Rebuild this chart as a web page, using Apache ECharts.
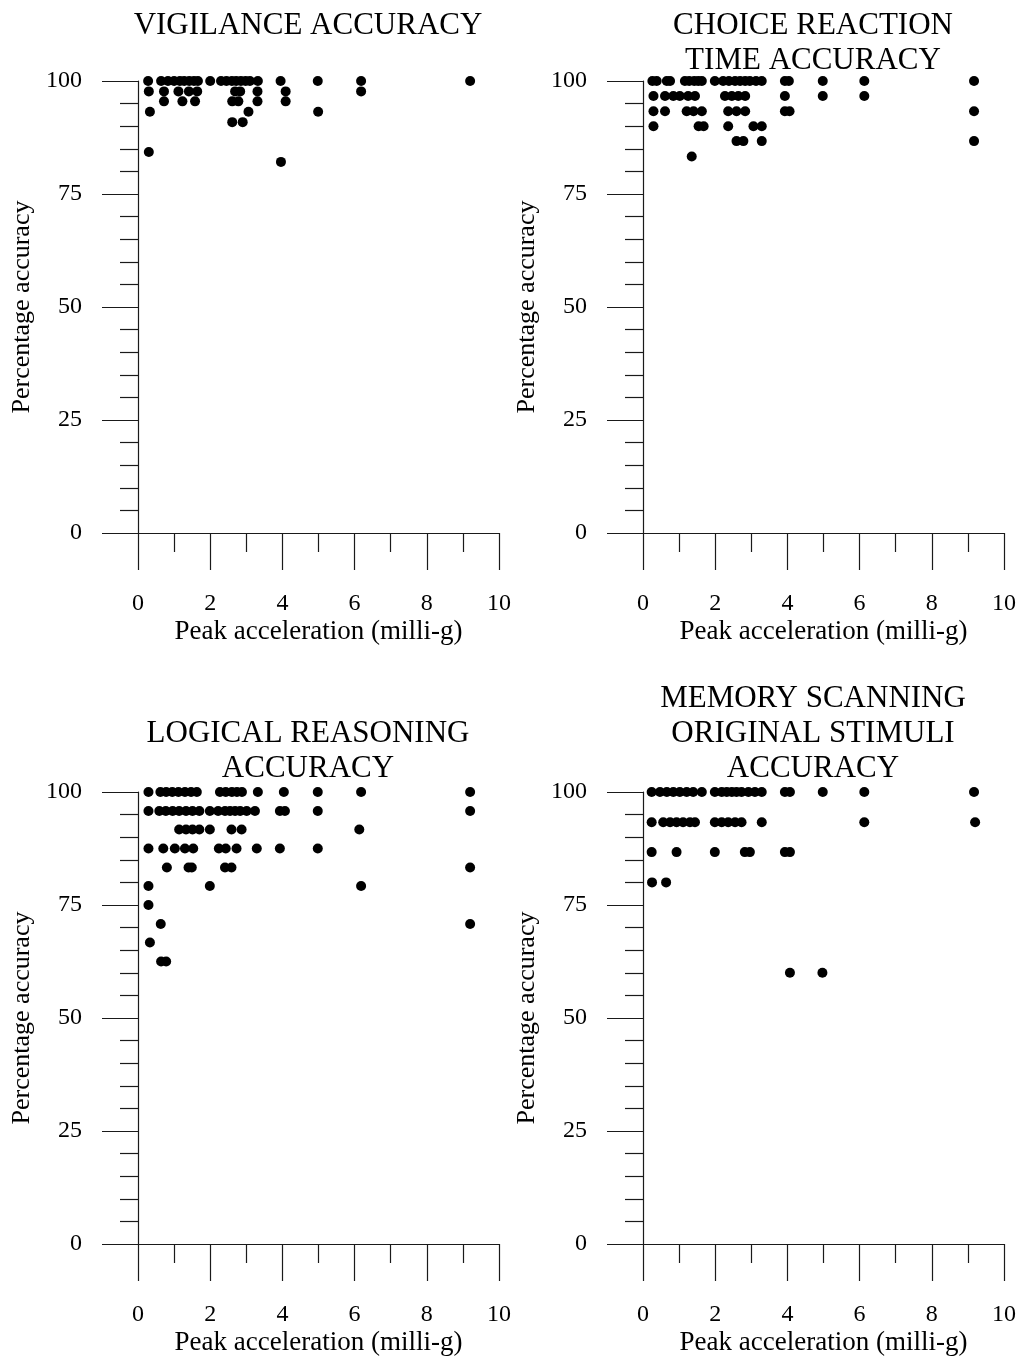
<!DOCTYPE html>
<html>
<head>
<meta charset="utf-8">
<script src="https://cdn.jsdelivr.net/npm/echarts@6/dist/echarts.min.js"></script>
<style>
  html, body { margin: 0; padding: 0; background: #fff; }
  #chart { width: 1021px; height: 1359px; }
</style>
</head>
<body>
<div id="chart"></div>
<script>
// Panel titles
const panelTitles = [
  'VIGILANCE ACCURACY',
  'CHOICE REACTION\nTIME ACCURACY',
  'LOGICAL REASONING\nACCURACY',
  'MEMORY SCANNING\nORIGINAL STIMULI\nACCURACY'
];

// Axis tick labels
const xTickLabels = [0, 2, 4, 6, 8, 10];
const yTickLabels = [0, 25, 50, 75, 100];

// [peak acceleration (milli-g), percentage accuracy]
const vigilanceAccuracy = [
  [0.28, 100], [0.64, 100], [0.83, 100], [1.0, 100], [1.16, 100], [1.28, 100], [1.42, 100],
  [1.55, 100], [1.66, 100], [2.0, 100], [2.3, 100], [2.45, 100], [2.6, 100], [2.72, 100],
  [2.85, 100], [2.98, 100], [3.1, 100], [3.32, 100], [3.95, 100], [4.98, 100], [6.18, 100], [9.2, 100],
  [0.30, 97.7], [0.72, 97.7], [1.12, 97.7], [1.41, 97.7], [1.64, 97.7], [2.69, 97.7], [2.83, 97.7],
  [3.31, 97.7], [4.09, 97.7], [6.18, 97.7],
  [0.72, 95.5], [1.23, 95.5], [1.58, 95.5], [2.61, 95.5], [2.78, 95.5], [3.31, 95.5], [4.09, 95.5],
  [0.33, 93.2], [3.06, 93.2], [4.99, 93.2],
  [2.61, 90.9], [2.90, 90.9],
  [0.30, 84.3],
  [3.96, 82.1]
];

const choiceReactionAccuracy = [
  [0.26, 100], [0.38, 100], [0.66, 100], [0.75, 100], [1.16, 100], [1.28, 100], [1.42, 100],
  [1.53, 100], [1.63, 100], [1.99, 100], [2.22, 100], [2.38, 100], [2.55, 100], [2.69, 100],
  [2.83, 100], [2.96, 100], [3.13, 100], [3.29, 100], [3.93, 100], [4.04, 100], [4.98, 100],
  [6.13, 100], [9.17, 100],
  [0.29, 96.7], [0.61, 96.7], [0.84, 96.7], [1.02, 96.7], [1.25, 96.7], [1.44, 96.7], [2.27, 96.7],
  [2.46, 96.7], [2.64, 96.7], [2.83, 96.7], [3.93, 96.7], [4.98, 96.7], [6.13, 96.7],
  [0.29, 93.3], [0.61, 93.3], [1.21, 93.3], [1.40, 93.3], [1.63, 93.3], [2.36, 93.3], [2.59, 93.3],
  [2.83, 93.3], [3.93, 93.3], [4.06, 93.3], [9.17, 93.3],
  [0.29, 90.0], [1.54, 90.0], [1.68, 90.0], [2.36, 90.0], [3.06, 90.0], [3.29, 90.0],
  [2.59, 86.7], [2.78, 86.7], [3.29, 86.7], [9.17, 86.7],
  [1.35, 83.3]
];

const logicalReasoningAccuracy = [
  [0.29, 100], [0.62, 100], [0.78, 100], [0.95, 100], [1.12, 100], [1.30, 100], [1.47, 100],
  [1.63, 100], [2.27, 100], [2.43, 100], [2.6, 100], [2.74, 100], [2.88, 100], [3.32, 100],
  [4.04, 100], [4.98, 100], [6.18, 100], [9.2, 100],
  [0.29, 95.8], [0.59, 95.8], [0.77, 95.8], [0.96, 95.8], [1.14, 95.8], [1.33, 95.8], [1.51, 95.8],
  [1.70, 95.8], [1.99, 95.8], [2.22, 95.8], [2.41, 95.8], [2.55, 95.8], [2.69, 95.8], [2.83, 95.8],
  [3.01, 95.8], [3.24, 95.8], [3.93, 95.8], [4.07, 95.8], [4.98, 95.8], [9.2, 95.8],
  [1.14, 91.7], [1.33, 91.7], [1.51, 91.7], [1.70, 91.7], [1.99, 91.7], [2.59, 91.7], [2.87, 91.7],
  [6.13, 91.7],
  [0.29, 87.5], [0.70, 87.5], [1.02, 87.5], [1.30, 87.5], [1.53, 87.5], [2.24, 87.5], [2.43, 87.5],
  [2.73, 87.5], [3.29, 87.5], [3.93, 87.5], [4.98, 87.5],
  [0.80, 83.3], [1.40, 83.3], [1.49, 83.3], [2.41, 83.3], [2.59, 83.3], [9.2, 83.3],
  [0.29, 79.2], [1.99, 79.2], [6.18, 79.2],
  [0.29, 75.0],
  [0.63, 70.8], [9.2, 70.8],
  [0.33, 66.7],
  [0.64, 62.5], [0.78, 62.5]
];

const memoryScanningAccuracy = [
  [0.24, 100], [0.47, 100], [0.66, 100], [0.84, 100], [1.02, 100], [1.21, 100], [1.39, 100],
  [1.63, 100], [1.99, 100], [2.18, 100], [2.32, 100], [2.46, 100], [2.59, 100], [2.73, 100],
  [2.92, 100], [3.10, 100], [3.29, 100], [3.93, 100], [4.07, 100], [4.98, 100], [6.13, 100],
  [9.17, 100],
  [0.24, 93.3], [0.56, 93.3], [0.75, 93.3], [0.93, 93.3], [1.11, 93.3], [1.30, 93.3], [1.44, 93.3],
  [1.99, 93.3], [2.18, 93.3], [2.36, 93.3], [2.55, 93.3], [2.73, 93.3], [3.29, 93.3], [6.13, 93.3],
  [9.2, 93.3],
  [0.24, 86.7], [0.93, 86.7], [1.99, 86.7], [2.82, 86.7], [2.96, 86.7], [3.93, 86.7], [4.07, 86.7],
  [0.25, 80.0], [0.64, 80.0],
  [4.07, 60.0], [4.97, 60.0]
];

const panelData = [vigilanceAccuracy, choiceReactionAccuracy, logicalReasoningAccuracy, memoryScanningAccuracy];

// Layout of the four plot areas (2 x 2)
const FONT = '"Liberation Serif", "Times New Roman", serif';
const plotLeft = [138, 643, 138, 643];
const plotTop = [81, 81, 792, 792];
const plotW = 361, plotH = 452;
const titleTop = [8, 8, 716, 681];

const ink = '#000';
const lineCol = '#1a1a1a';

const grids = [], xAxes = [], yAxes = [], series = [], titles = [];
for (let i = 0; i < 4; i++) {
  grids.push({ left: plotLeft[i], top: plotTop[i], width: plotW, height: plotH, containLabel: false });
  titles.push({
    text: panelTitles[i],
    left: plotLeft[i] + 170,
    top: titleTop[i],
    textAlign: 'center',
    padding: 0,
    textStyle: { fontFamily: FONT, fontSize: 31, fontWeight: 'normal', color: ink, lineHeight: 35 }
  });
  xAxes.push({
    gridIndex: i, type: 'value', min: 0, max: 10, interval: 2,
    name: 'Peak acceleration (milli-g)', nameLocation: 'middle', nameGap: 85,
    nameTextStyle: { fontFamily: FONT, fontSize: 27, color: ink },
    axisLine: { show: true, onZero: false, lineStyle: { color: lineCol, width: 1.2 } },
    axisTick: { show: true, length: 37, lineStyle: { color: lineCol, width: 1.2 } },
    minorTick: { show: true, splitNumber: 2, length: 19, lineStyle: { color: lineCol, width: 1.2 } },
    axisLabel: {
      margin: 59, fontFamily: FONT, fontSize: 24, color: ink,
      formatter: v => (xTickLabels.indexOf(v) >= 0 ? String(v) : '')
    },
    splitLine: { show: false }
  });
  yAxes.push({
    gridIndex: i, type: 'value', min: 0, max: 100, interval: 25,
    name: 'Percentage accuracy', nameLocation: 'middle', nameGap: 103, nameRotate: 90,
    nameTextStyle: { fontFamily: FONT, fontSize: 26, color: ink },
    axisLine: { show: true, onZero: false, lineStyle: { color: lineCol, width: 1.2 } },
    axisTick: { show: true, length: 36, lineStyle: { color: lineCol, width: 1.2 } },
    minorTick: { show: true, splitNumber: 5, length: 18, lineStyle: { color: lineCol, width: 1.2 } },
    axisLabel: {
      margin: 56, fontFamily: FONT, fontSize: 24, color: ink,
      formatter: v => (yTickLabels.indexOf(v) >= 0 ? String(v) : '')
    },
    splitLine: { show: false }
  });
  series.push({
    type: 'scatter', xAxisIndex: i, yAxisIndex: i,
    data: panelData[i], symbol: 'circle', symbolSize: 10,
    itemStyle: { color: '#000', opacity: 1 },
    emphasis: { disabled: true }, silent: true, clip: false
  });
}

const chart = echarts.init(document.getElementById('chart'), null, { renderer: 'canvas' });
chart.setOption({
  backgroundColor: '#fff',
  animation: false,
  title: titles,
  grid: grids,
  xAxis: xAxes,
  yAxis: yAxes,
  series: series
});
</script>
</body>
</html>
